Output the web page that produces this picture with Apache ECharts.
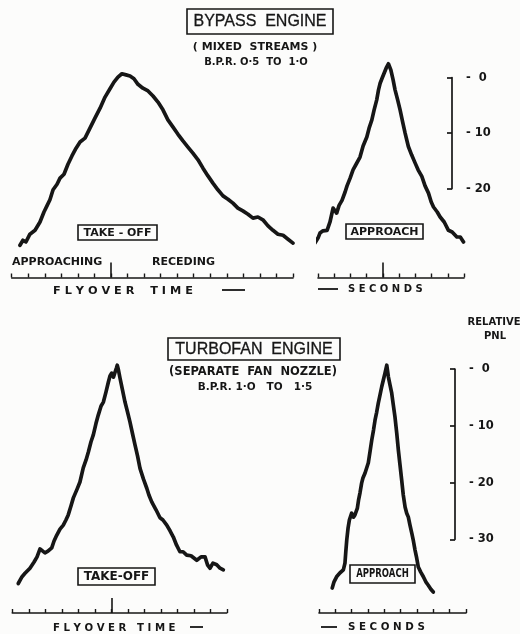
<!DOCTYPE html>
<html><head><meta charset="utf-8">
<script src="https://cdn.jsdelivr.net/npm/echarts@6/dist/echarts.min.js"></script>
<style>html,body{margin:0;padding:0;background:#fcfcfb}#c{width:520px;height:634px}</style>
</head><body><div id="c"></div>
<script>
// Relative PNL (dB) vs flyover time (tick units)
const takeoffBypass = [[0.50,-30.2],[0.68,-29.3],[0.86,-29.6],[1.10,-28.2],[1.41,-27.5],[1.71,-26.0],[1.95,-24.2],[2.13,-23.1],[2.31,-22.0],[2.50,-20.2],[2.74,-19.2],[2.92,-18.1],[3.16,-17.4],[3.40,-15.6],[3.64,-14.1],[3.89,-12.7],[4.13,-11.6],[4.43,-10.9],[4.73,-9.1],[5.03,-7.3],[5.34,-5.5],[5.64,-3.5],[5.94,-2.0],[6.18,-0.8],[6.42,0.1],[6.66,0.7],[6.91,0.5],[7.15,0.3],[7.39,-0.2],[7.63,-1.2],[7.93,-1.9],[8.24,-2.4],[8.54,-3.3],[8.84,-4.4],[9.14,-5.8],[9.44,-7.6],[9.75,-8.9],[10.05,-10.2],[10.35,-11.4],[10.65,-12.5],[10.95,-13.6],[11.26,-14.8],[11.56,-16.3],[11.86,-17.7],[12.16,-19.0],[12.46,-20.2],[12.77,-21.3],[13.07,-21.9],[13.37,-22.6],[13.67,-23.5],[13.97,-24.0],[14.28,-24.6],[14.58,-25.3],[14.88,-25.1],[15.18,-25.6],[15.49,-26.7],[15.79,-27.5],[16.09,-28.2],[16.40,-28.4],[16.70,-29.1],[17.00,-29.8]];
const approachBypass = [[-0.19,-29.8],[0.0,-28.9],[0.12,-28.0],[0.31,-27.6],[0.56,-27.5],[0.74,-26.0],[0.93,-23.5],[1.15,-24.4],[1.30,-23.0],[1.48,-22.1],[1.67,-20.6],[1.79,-19.5],[1.98,-18.1],[2.16,-16.6],[2.35,-15.6],[2.59,-14.3],[2.78,-12.3],[3.01,-10.7],[3.15,-9.1],[3.32,-7.6],[3.46,-5.8],[3.62,-4.0],[3.73,-2.2],[3.83,-1.0],[3.95,-0.1],[4.03,0.2],[4.20,1.7],[4.34,2.5],[4.49,1.4],[4.63,-0.4],[4.75,-2.2],[4.91,-4.0],[5.06,-5.8],[5.22,-8.0],[5.37,-10.0],[5.57,-12.4],[5.77,-13.9],[5.99,-15.4],[6.17,-16.6],[6.40,-17.8],[6.60,-19.5],[6.81,-20.8],[6.98,-22.4],[7.12,-23.3],[7.35,-24.2],[7.53,-25.1],[7.78,-26.0],[8.04,-27.5],[8.27,-27.8],[8.56,-28.7],[8.77,-28.7],[8.97,-29.6]];
const takeoffTurbofan = [[0.36,-37.8],[0.59,-36.6],[0.77,-36.0],[1.07,-35.1],[1.32,-34.0],[1.50,-33.1],[1.68,-31.7],[1.80,-31.9],[1.98,-32.4],[2.16,-32.1],[2.39,-31.5],[2.53,-30.3],[2.69,-29.3],[2.89,-28.2],[3.09,-27.5],[3.25,-26.6],[3.39,-25.7],[3.56,-24.1],[3.70,-22.7],[3.92,-21.2],[4.10,-19.9],[4.30,-17.4],[4.47,-16.0],[4.61,-14.6],[4.77,-12.8],[4.91,-11.6],[5.07,-9.6],[5.21,-8.1],[5.38,-6.5],[5.52,-5.8],[5.68,-4.0],[5.82,-2.3],[5.92,-1.2],[6.02,-0.7],[6.13,-1.4],[6.22,-1.2],[6.31,0.2],[6.36,0.7],[6.43,-0.1],[6.53,-1.6],[6.68,-3.7],[6.83,-5.8],[6.98,-7.5],[7.13,-9.3],[7.28,-11.3],[7.44,-13.4],[7.59,-15.3],[7.74,-17.5],[7.95,-19.4],[8.15,-21.0],[8.28,-22.2],[8.45,-23.4],[8.71,-24.8],[8.95,-26.2],[9.13,-26.6],[9.36,-27.5],[9.56,-28.5],[9.76,-29.6],[9.95,-31.0],[10.16,-32.2],[10.35,-32.2],[10.57,-32.8],[10.83,-32.9],[11.18,-33.7],[11.44,-33.1],[11.68,-33.1],[11.83,-34.5],[11.98,-35.1],[12.16,-34.2],[12.39,-34.5],[12.59,-35.1],[12.79,-35.4]];
const approachTurbofan = [[0.81,-38.6],[0.92,-37.5],[0.98,-37.2],[1.10,-36.5],[1.29,-35.9],[1.49,-35.4],[1.59,-34.2],[1.64,-32.2],[1.70,-30.1],[1.78,-28.0],[1.86,-26.6],[2.00,-25.4],[2.11,-26.1],[2.20,-25.7],[2.35,-24.5],[2.42,-23.1],[2.51,-21.8],[2.61,-20.1],[2.69,-19.2],[2.82,-18.3],[3.02,-16.5],[3.12,-14.6],[3.23,-12.5],[3.34,-10.7],[3.43,-9.0],[3.53,-7.6],[3.63,-6.0],[3.74,-4.5],[3.84,-3.1],[3.94,-1.9],[4.04,-0.7],[4.15,0.7],[4.25,-1.4],[4.35,-2.8],[4.45,-4.2],[4.55,-6.3],[4.65,-8.4],[4.76,-11.3],[4.86,-14.3],[4.96,-16.9],[5.06,-19.5],[5.16,-22.2],[5.27,-24.3],[5.37,-25.4],[5.47,-26.1],[5.57,-27.5],[5.68,-28.9],[5.78,-30.3],[5.88,-31.9],[5.98,-33.3],[6.08,-34.9],[6.23,-35.8],[6.39,-36.6],[6.54,-37.5],[6.69,-38.1],[6.85,-38.8],[7.00,-39.3]];
// tick rulers (number of time intervals) and centre (overhead) tick
const takeoffBypassTicks = 17, approachBypassTicks = 9, takeoffTurbofanTicks = 13, approachTurbofanTicks = 9;
const overheadTick = [6], approachOverheadTick = [4];
const bypassPnlTicks = [0, 10, 20];
const turbofanPnlTicks = [0, 10, 20, 30];

const INK = '#161616';
const chart = echarts.init(document.getElementById('c'), null, {renderer: 'canvas'});

const grids = [
  {left: 11.7, width: 281.3, top: 61, height: 216.5},
  {left: 318, width: 146, top: 61, height: 216.5},
  {left: 12.3, width: 214.5, top: 363.5, height: 249.5},
  {left: 319, width: 147, top: 363.5, height: 249.5},
  {left: 452, width: 10, top: 77.6, height: 111},
  {left: 455, width: 10, top: 369.2, height: 170.1}
].map(g => Object.assign({outerBoundsMode: 'none', containLabel: false}, g));

function ruler(gi, n) {
  return {gridIndex: gi, type: 'value', min: 0, max: n, interval: 1,
    axisLine: {show: true, onZero: false, lineStyle: {color: INK, width: 1.6}},
    axisTick: {show: true, inside: true, length: 4, lineStyle: {color: INK, width: 1.4}},
    axisLabel: {show: false}, splitLine: {show: false}};
}
function tallTick(gi, n, vals) {
  return {gridIndex: gi, type: 'value', min: 0, max: n, position: 'bottom',
    axisLine: {show: false, onZero: false},
    axisTick: {show: vals.length > 0, inside: true, length: 15, customValues: vals, lineStyle: {color: INK, width: 1.6}},
    axisLabel: {show: false}, splitLine: {show: false}};
}
const xAxes = [
  ruler(0, takeoffBypassTicks), ruler(1, approachBypassTicks), ruler(2, takeoffTurbofanTicks), ruler(3, approachTurbofanTicks),
  tallTick(0, takeoffBypassTicks, overheadTick), tallTick(1, approachBypassTicks, approachOverheadTick),
  tallTick(2, takeoffTurbofanTicks, overheadTick),
  {gridIndex: 4, type: 'value', show: false}, {gridIndex: 5, type: 'value', show: false}
];
function hiddenY(gi, min, max) {
  return {gridIndex: gi, type: 'value', min: min, max: max, show: false};
}
function bracket(gi, ticks) {
  return {gridIndex: gi, type: 'value', position: 'right', inverse: true,
    min: ticks[0], max: ticks[ticks.length - 1], interval: ticks[1] - ticks[0],
    axisLine: {show: true, lineStyle: {color: INK, width: 1.7}},
    axisTick: {show: true, inside: true, length: 5, lineStyle: {color: INK, width: 1.7}},
    axisLabel: {show: true, margin: 4, color: INK, fontFamily: 'DejaVu Sans', fontWeight: 'bold', fontSize: 11.5,
      formatter: v => (v < 10 ? '-  ' : '- ') + v},
    splitLine: {show: false}};
}
const yAxes = [hiddenY(0, -36, 3), hiddenY(1, -36, 3), hiddenY(2, -43, 1), hiddenY(3, -43, 1),
  bracket(4, bypassPnlTicks), bracket(5, turbofanPnlTicks)];

function trace(i, data) {
  return {type: 'line', xAxisIndex: i, yAxisIndex: i, data: data, showSymbol: false, clip: false,
    lineStyle: {color: INK, width: 3.7, join: 'round', cap: 'round'}, animation: false, silent: true};
}

const F = 'DejaVu Sans';
function txt(t, x, y, size, opts) {
  return Object.assign({type: 'text', silent: true, style: Object.assign({text: t, x: x, y: y,
    font: 'bold ' + size + 'px "' + F + '"', fill: INK, textAlign: 'center', textVerticalAlign: 'middle'}, opts && opts.style || {})},
    opts && opts.el || {});
}
function box(x, y, w, h, lw) {
  return {type: 'rect', silent: true, shape: {x: x, y: y, width: w, height: h},
    style: {fill: 'none', stroke: INK, lineWidth: lw || 1.6}};
}
function dash(x1, x2, y) {
  return {type: 'line', silent: true, shape: {x1: x1, y1: y, x2: x2, y2: y}, style: {stroke: INK, lineWidth: 1.8}};
}

const graphics = [
  box(187, 9, 146, 25),
  {type: 'text', silent: true, style: {text: 'BYPASS  ENGINE', x: 260, y: 22, font: '16px "Liberation Sans"', fill: INK, textAlign: 'center', textVerticalAlign: 'middle', stroke: INK, lineWidth: 0.3}},
  txt('( MIXED  STREAMS )', 255, 47, 11),
  txt('B.P.R. O·5  TO  1·O', 256, 62, 10),
  box(168, 338, 172, 22),
  {type: 'text', silent: true, style: {text: 'TURBOFAN  ENGINE', x: 254, y: 349.5, font: '16px "Liberation Sans"', fill: INK, textAlign: 'center', textVerticalAlign: 'middle', stroke: INK, lineWidth: 0.3}},
  txt('(SEPARATE  FAN  NOZZLE)', 253, 372, 11.5),
  txt('B.P.R. 1·O   TO   1·5', 255, 387, 10.5),
  txt('RELATIVE', 494, 322, 10),
  txt('PNL', 495, 336, 10),
  box(78, 225, 79, 15),
  txt('TAKE - OFF', 117.5, 233, 11),
  box(346, 224, 77, 15),
  txt('APPROACH', 384.5, 232, 11),
  box(78, 568, 77, 17),
  txt('TAKE-OFF', 116.5, 577, 12),
  box(350, 565, 65, 18),
  txt('APPROACH', 0, 0, 11.5, {el: {x: 382.5, y: 574.5, scaleX: 0.74}}),
  txt('APPROACHING', 12, 262, 11, {style: {textAlign: 'left'}}),
  txt('RECEDING', 152, 262, 11, {style: {textAlign: 'left'}}),
  txt('F L Y O V E R    T I M E', 53, 291, 11.3, {style: {textAlign: 'left'}}),
  dash(222, 245, 290),
  dash(318, 338, 289),
  txt('S E C O N D S', 348, 289.5, 10, {style: {textAlign: 'left'}}),
  txt('F L Y O V E R   T I M E', 53, 628, 10.2, {style: {textAlign: 'left'}}),
  dash(190, 203, 627),
  dash(321, 337, 627),
  txt('S E C O N D S', 348, 627.5, 10.3, {style: {textAlign: 'left'}})
];

chart.setOption({
  backgroundColor: '#fcfcfb',
  animation: false,
  grid: grids,
  xAxis: xAxes,
  yAxis: yAxes,
  series: [trace(0, takeoffBypass), trace(1, approachBypass), trace(2, takeoffTurbofan), trace(3, approachTurbofan)],
  graphic: graphics
});
</script></body></html>
